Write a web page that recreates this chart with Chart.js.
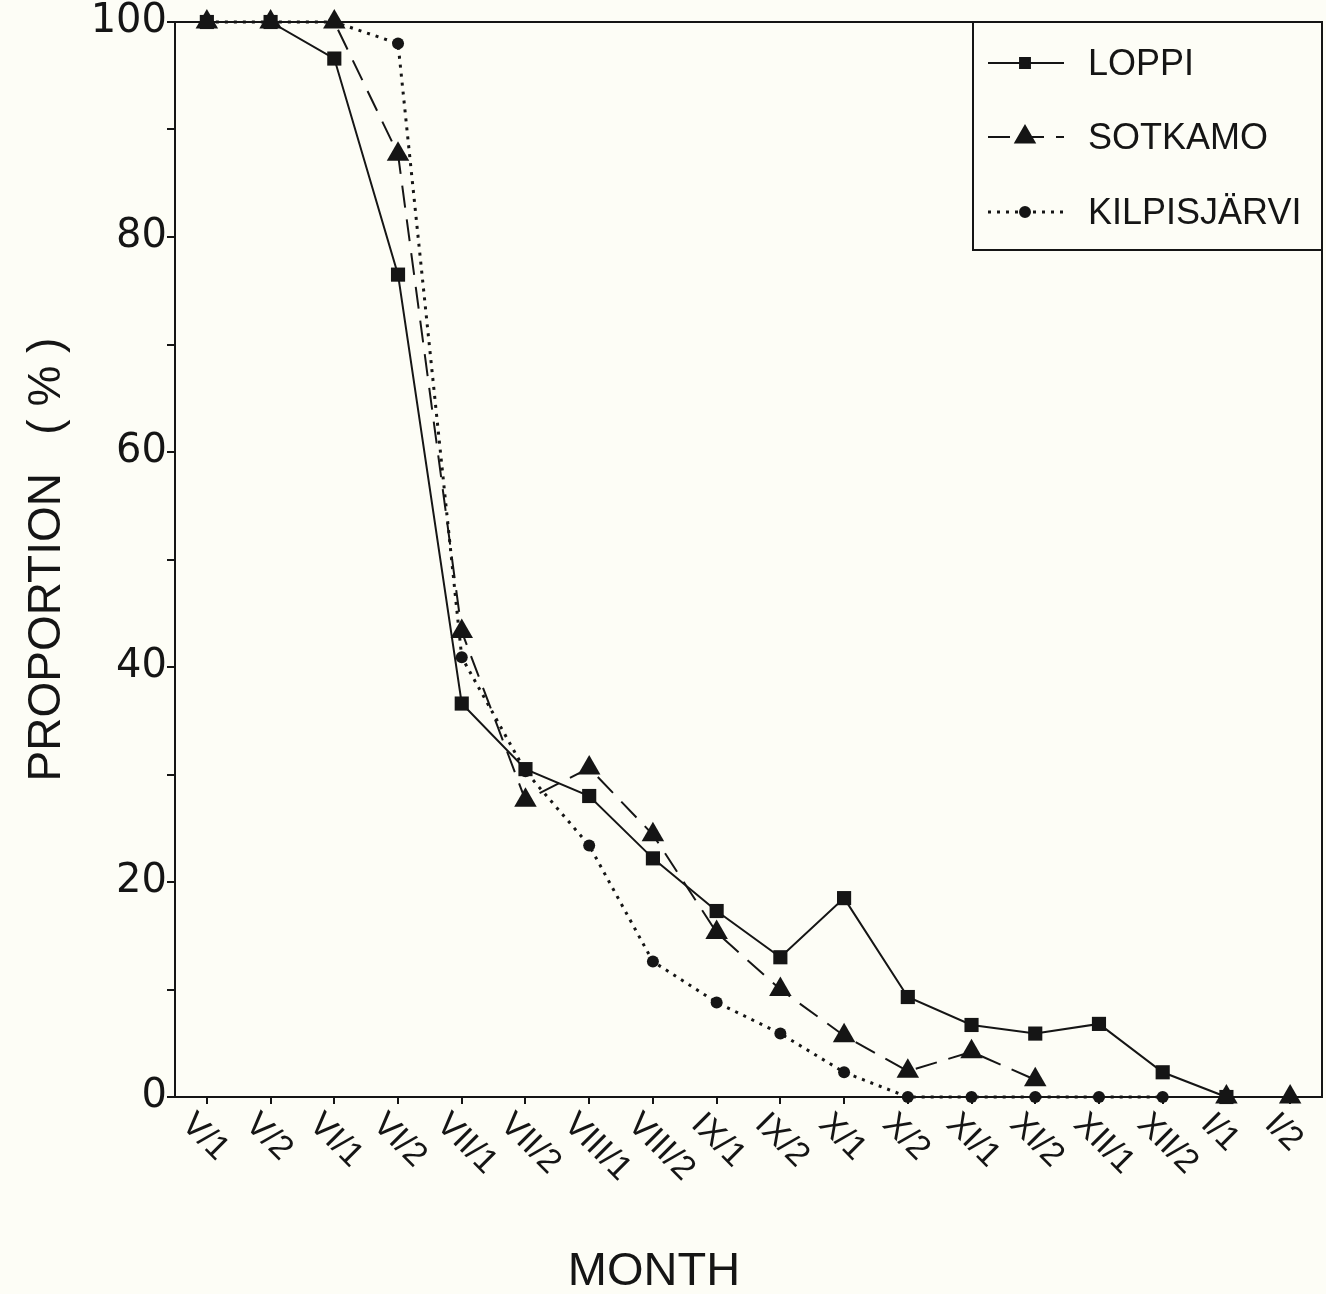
<!DOCTYPE html>
<html>
<head>
<meta charset="utf-8">
<script src="https://cdn.jsdelivr.net/npm/chart.js@4.4.1/dist/chart.umd.min.js"></script>
<style>
  body { margin: 0; background: #fdfdf6; overflow: hidden; }
  canvas { display: block; }
</style>
</head>
<body>
<canvas id="chart" width="1326" height="1294"></canvas>
<script>
// half-month periods
const months = ["V/1", "V/2", "VI/1", "VI/2", "VII/1", "VII/2", "VIII/1", "VIII/2", "IX/1", "IX/2",
                "X/1", "X/2", "XI/1", "XI/2", "XII/1", "XII/2", "I/1", "I/2"];

// proportion (%) per site
const loppi = [100, 100, 96.6, 76.5, 36.6, 30.5, 28.0, 22.2, 17.3, 13.0, 18.5, 9.3, 6.7, 5.9, 6.8, 2.3, 0, null];
const sotkamo = [100, 100, 100, 87.7, 43.3, 27.6, 30.6, 24.4, 15.3, 10.0, 5.7, 2.4, 4.2, 1.6, null, null, 0, 0];
const kilpisjarvi = [100, 100, 100, 98.0, 40.9, 30.3, 23.4, 12.6, 8.8, 5.9, 2.3, 0, 0, 0, 0, 0, null, null];

const ink = "#151515";
const sans = "'Liberation Sans', Arial, sans-serif";

// cream paper background
const paper = {
    id: "paper",
    beforeDraw(chart) {
        const ctx = chart.ctx;
        ctx.save();
        ctx.fillStyle = "#fdfdf6";
        ctx.fillRect(0, 0, chart.width, chart.height);
        ctx.restore();
    }
};

// top/right frame, slanted month labels, axis title and boxed legend
const extras = {
    id: "extras",
    afterDraw(chart) {
        const ctx = chart.ctx;
        const a = chart.chartArea;
        const xs = chart.scales.x;

        ctx.save();
        ctx.strokeStyle = ink;
        ctx.lineWidth = 2;
        ctx.beginPath();
        ctx.moveTo(a.left, a.top);
        ctx.lineTo(a.right, a.top);
        ctx.lineTo(a.right, a.bottom);
        ctx.stroke();

        // month labels rotated clockwise
        ctx.fillStyle = ink;
        ctx.font = "34px " + sans;
        ctx.textAlign = "left";
        ctx.textBaseline = "middle";
        xs.ticks.forEach((t, i) => {
            const x = xs.getPixelForTick(i);
            ctx.save();
            ctx.translate(x - 20, a.bottom + 22);
            ctx.rotate(Math.PI / 4);
            ctx.fillText(xs.getLabelForValue(t.value), 0, 0);
            ctx.restore();
        });

        // x axis title sits left of centre in the original
        ctx.font = "47px " + sans;
        ctx.textAlign = "center";
        ctx.textBaseline = "alphabetic";
        ctx.fillText("MONTH", 654, 1285);

        // legend box
        const boxL = 973, boxB = 250;
        ctx.lineWidth = 2;
        ctx.beginPath();
        ctx.moveTo(boxL, a.top);
        ctx.lineTo(boxL, boxB);
        ctx.lineTo(a.right, boxB);
        ctx.stroke();

        const rows = [63, 137, 212];
        const sizes = [7, 11, 5];
        chart.data.datasets.forEach((ds, i) => {
            const y = rows[i];
            ctx.save();
            ctx.strokeStyle = ink;
            ctx.lineWidth = ds.borderWidth;
            ctx.setLineDash(ds.borderDash || []);
            ctx.beginPath();
            ctx.moveTo(988, y);
            ctx.lineTo(1064, y);
            ctx.stroke();
            ctx.restore();
            ctx.fillStyle = ink;
            ctx.strokeStyle = ink;
            Chart.helpers.drawPoint(ctx, {
                pointStyle: ds.pointStyle, radius: sizes[i], rotation: 0, borderWidth: 1
            }, 1025, y);
            ctx.fillStyle = ink;
            ctx.font = "36px " + sans;
            ctx.textAlign = "left";
            ctx.textBaseline = "middle";
            ctx.fillText(ds.label, 1088, y + 2);
        });
        ctx.restore();
    }
};

new Chart(document.getElementById("chart"), {
    type: "line",
    data: {
        labels: months,
        datasets: [
            {
                label: "LOPPI",
                data: loppi,
                borderColor: ink,
                backgroundColor: ink,
                borderWidth: 2,
                pointStyle: "rect",
                pointRadius: 10,
                pointBorderWidth: 0
            },
            {
                label: "SOTKAMO",
                data: sotkamo,
                borderColor: ink,
                backgroundColor: ink,
                borderWidth: 2,
                borderDash: [22, 12],
                pointStyle: "triangle",
                pointRadius: 13,
                pointBorderWidth: 0
            },
            {
                label: "KILPISJÄRVI",
                data: kilpisjarvi,
                borderColor: ink,
                backgroundColor: ink,
                borderWidth: 3,
                borderDash: [3, 6],
                pointStyle: "circle",
                pointRadius: 6,
                pointBorderWidth: 0
            }
        ]
    },
    options: {
        responsive: false,
        animation: false,
        devicePixelRatio: 1,
        clip: false,
        spanGaps: false,
        layout: { autoPadding: false, padding: { top: 22, right: 4, left: 0, bottom: 0 } },
        plugins: {
            legend: { display: false },
            tooltip: { enabled: false }
        },
        scales: {
            x: {
                offset: true,
                grid: { drawOnChartArea: false, drawTicks: true, tickLength: 7, color: ink, lineWidth: 2 },
                border: { color: ink, width: 2 },
                ticks: { display: false },
                afterFit(scale) { scale.height = 197; }
            },
            y: {
                min: 0,
                max: 100,
                grid: { drawOnChartArea: false, drawTicks: true, tickLength: 8, color: ink, lineWidth: 2 },
                border: { color: ink, width: 2 },
                ticks: {
                    stepSize: 10,
                    autoSkip: false,
                    color: ink,
                    padding: 0,
                    font: { family: "'DejaVu Sans', sans-serif", size: 40, lineHeight: 1 },
                    callback: v => (v % 20 === 0 ? v : "")
                },
                title: {
                    display: true,
                    text: "PROPORTION   ( % )",
                    color: ink,
                    font: { family: "'Liberation Sans Narrow', 'Liberation Sans', Arial, sans-serif", size: 46, lineHeight: 1 },
                    padding: 24
                },
                afterFit(scale) { scale.width = 175; }
            }
        }
    },
    plugins: [paper, extras]
});
</script>
</body>
</html>
